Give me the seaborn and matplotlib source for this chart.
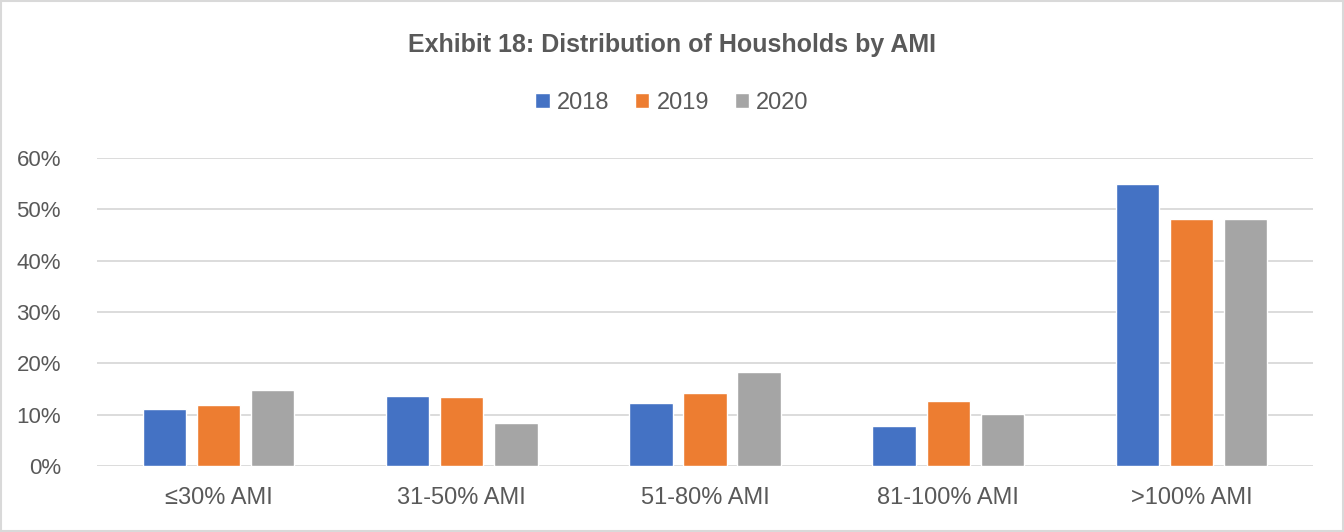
import matplotlib
matplotlib.use("Agg")
import matplotlib.pyplot as plt
import matplotlib.ticker as mtick
import seaborn as sns
import pandas as pd

# values
categories = ["≤30% AMI", "31-50% AMI", "51-80% AMI", "81-100% AMI", ">100% AMI"]
years = ["2018", "2019", "2020"]
share_2018 = [11.2, 13.6, 12.3, 7.7, 55.0]
share_2019 = [11.9, 13.4, 14.2, 12.6, 48.2]
share_2020 = [14.8, 8.4, 18.4, 10.1, 48.2]
colors = ["#4472C4", "#ED7D31", "#A5A5A5"]

df = pd.DataFrame({
    "category": categories * 3,
    "year": [y for y in years for _ in categories],
    "share": share_2018 + share_2019 + share_2020,
})

sns.set_style("white")
plt.rcParams["font.family"] = ["Liberation Sans", "DejaVu Sans"]
text_col = "#595959"

fig = plt.figure(figsize=(13.44, 5.32), dpi=100)
ax = fig.add_axes([97 / 1344, 1 - 466 / 532, (1313 - 97) / 1344, (466 - 158) / 532])

sns.barplot(data=df, x="category", y="share", hue="year", order=categories,
            hue_order=years, palette=colors, width=0.667, gap=0.2,
            saturation=1, ax=ax, legend=True)

ax.set_ylim(0, 60)
ax.set_yticks(range(0, 61, 10))
ax.yaxis.set_major_formatter(mtick.FuncFormatter(lambda v, p: f"{v:.0f}%"))
ax.grid(axis="y", color="#d9d9d9", linewidth=1.3)
ax.set_axisbelow(True)
for s in ax.spines.values():
    s.set_visible(False)
ax.set_xlabel("")
ax.set_ylabel("")
ax.tick_params(axis="both", length=0, colors=text_col)
ax.tick_params(axis="y", labelsize=16, pad=26)
ax.tick_params(axis="x", labelsize=17, pad=15)

handles, labels = ax.get_legend_handles_labels()
ax.legend(handles, labels, loc="center", bbox_to_anchor=(0.5, 1 - 103 / 532),
          bbox_transform=fig.transFigure, ncol=3, frameon=False, fontsize=17,
          labelcolor=text_col, handlelength=0.6, handleheight=0.6,
          handletextpad=0.3, columnspacing=1.1)

fig.text(0.5, 1 - 45 / 532, "Exhibit 18: Distribution of Housholds by AMI",
         ha="center", va="center", fontsize=18, fontweight="bold", color=text_col)

# light outer frame like the exported chart area
fig.patches.append(plt.Rectangle((0.001, 0.001), 0.998, 0.998, transform=fig.transFigure,
                                 fill=False, edgecolor="#d9d9d9", linewidth=1.5))

fig.savefig("out.png", dpi=100)
